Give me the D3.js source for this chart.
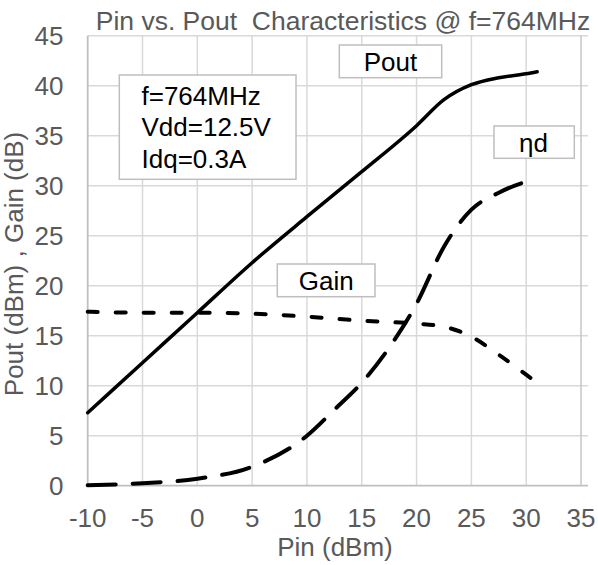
<!DOCTYPE html>
<html>
<head>
<meta charset="utf-8">
<script src="https://cdn.jsdelivr.net/npm/d3@7"></script>
<style>
  html, body { margin: 0; padding: 0; background: #fff; }
  svg { display: block; }
  text { font-family: "Liberation Sans", Arial, sans-serif; white-space: pre; }
</style>
</head>
<body>
<svg id="chart" width="598" height="565"></svg>
<script>
// ---- data ----
const pinPout = [-10, -5, 0, 5, 10, 15, 20, 22.5, 25, 27.5, 30, 31];
const poutValues = [7.3, 12.3, 17.3, 22.3, 26.9, 31.4, 36.0, 38.6, 40.1, 40.8, 41.2, 41.4];
const pinGain = [-10, -5, 0, 5, 10, 15, 20, 22.5, 25, 27.5, 30, 31];
const gainValues = [17.4, 17.3, 17.3, 17.2, 16.9, 16.5, 16.2, 15.9, 14.9, 13.1, 11.1, 10.3];
const pinEff = [-10, -5, 0, 5, 10, 12.5, 15, 17.5, 20, 22.5, 25, 27.5, 30, 31];
const effValues = [0.05, 0.25, 0.7, 1.9, 5.0, 7.6, 10.3, 13.8, 18.2, 23.9, 27.6, 29.3, 30.4, 30.7];
const xTicks = [-10, -5, 0, 5, 10, 15, 20, 25, 30, 35];
const yTicks = [0, 5, 10, 15, 20, 25, 30, 35, 40, 45];
const titleText = "Pin vs. Pout  Characteristics @ f=764MHz";
const xTitle = "Pin (dBm)";
const yTitle = "Pout (dBm) , Gain (dB)";
const infoLines = ["f=764MHz", "Vdd=12.5V", "Idq=0.3A"];

// ---- layout ----
const svg = d3.select("#chart");
const pLeft = 87.7, pRight = 581, pTop = 35.7, pBottom = 485.7, gridRight = 588;
const x = d3.scaleLinear().domain([-10, 35]).range([pLeft, pRight]);
const y = d3.scaleLinear().domain([0, 45]).range([pBottom, pTop]);
const grey = "#595959";

// gridlines
const g = svg.append("g");
g.selectAll("line.h").data(yTicks.filter(d => d > 0)).enter().append("line")
  .attr("x1", pLeft).attr("x2", gridRight)
  .attr("y1", d => y(d)).attr("y2", d => y(d))
  .attr("stroke", "#d9d9d9").attr("stroke-width", 1.5);
g.selectAll("line.v").data(xTicks.filter(d => d > -10)).enter().append("line")
  .attr("x1", d => x(d)).attr("x2", d => x(d))
  .attr("y1", pTop).attr("y2", pBottom)
  .attr("stroke", d => d === 35 ? "#c6c6c6" : "#d9d9d9").attr("stroke-width", 1.5);
// axes lines
g.append("line").attr("x1", pLeft).attr("x2", gridRight).attr("y1", y(0)).attr("y2", y(0))
  .attr("stroke", "#bfbfbf").attr("stroke-width", 1.8);
g.append("line").attr("x1", pLeft).attr("x2", pLeft).attr("y1", pTop).attr("y2", pBottom)
  .attr("stroke", "#bfbfbf").attr("stroke-width", 1.8);

// tick labels
svg.selectAll("text.xt").data(xTicks).enter().append("text")
  .attr("x", d => x(d)).attr("y", 527)
  .attr("text-anchor", "middle").attr("font-size", 26).attr("fill", grey)
  .text(d => d);
svg.selectAll("text.yt").data(yTicks).enter().append("text")
  .attr("x", 63.5).attr("y", d => y(d) + 9)
  .attr("text-anchor", "end").attr("font-size", 26).attr("fill", grey)
  .text(d => d);

// titles
svg.append("text").attr("x", 343).attr("y", 30).attr("text-anchor", "middle")
  .attr("font-size", 26.5).attr("fill", grey).text(titleText);
svg.append("text").attr("x", 335).attr("y", 556).attr("text-anchor", "middle")
  .attr("font-size", 26).attr("fill", grey).text(xTitle);
svg.append("text").attr("transform", "translate(23,264) rotate(-90)").attr("text-anchor", "middle")
  .attr("font-size", 26).attr("fill", grey).text(yTitle);

// series
const line = d3.line().x(d => x(d[0])).y(d => y(d[1])).curve(d3.curveMonotoneX);
const plot = svg.append("g");
plot.append("path").datum(d3.zip(pinPout, poutValues)).attr("d", line)
  .attr("fill", "none").attr("stroke", "#000").attr("stroke-width", 3.5).attr("stroke-linecap", "round");
plot.append("path").datum(d3.zip(pinGain, gainValues)).attr("d", line)
  .attr("fill", "none").attr("stroke", "#000").attr("stroke-width", 4).attr("stroke-linecap", "round")
  .attr("stroke-dasharray", "10,18");
plot.append("path").datum(d3.zip(pinEff, effValues)).attr("d", line)
  .attr("fill", "none").attr("stroke", "#000").attr("stroke-width", 4).attr("stroke-linecap", "round")
  .attr("stroke-dasharray", "28,17");

// annotation boxes
function box(bx, by, bw, bh) {
  svg.append("rect").attr("x", bx).attr("y", by).attr("width", bw).attr("height", bh)
    .attr("fill", "#fff").attr("stroke", "#bfbfbf").attr("stroke-width", 1.5);
}
box(119.3, 75, 176.7, 104.3);
svg.selectAll("text.info").data(infoLines).enter().append("text")
  .attr("x", 141.5).attr("y", (d, i) => 105 + i * 31.3)
  .attr("font-size", 26).attr("fill", "#000").text(d => d);
box(339.3, 45, 102.4, 32.7);
svg.append("text").attr("x", 390.5).attr("y", 71).attr("text-anchor", "middle")
  .attr("font-size", 26).attr("fill", "#000").text("Pout");
box(494, 126, 80.3, 32.3);
svg.append("text").attr("x", 533.5).attr("y", 151.5).attr("text-anchor", "middle")
  .attr("font-size", 26).attr("fill", "#000").text("ηd");
box(277.3, 264, 97.7, 32.7);
svg.append("text").attr("x", 326.3).attr("y", 289.5).attr("text-anchor", "middle")
  .attr("font-size", 26).attr("fill", "#000").text("Gain");
</script>
</body>
</html>
